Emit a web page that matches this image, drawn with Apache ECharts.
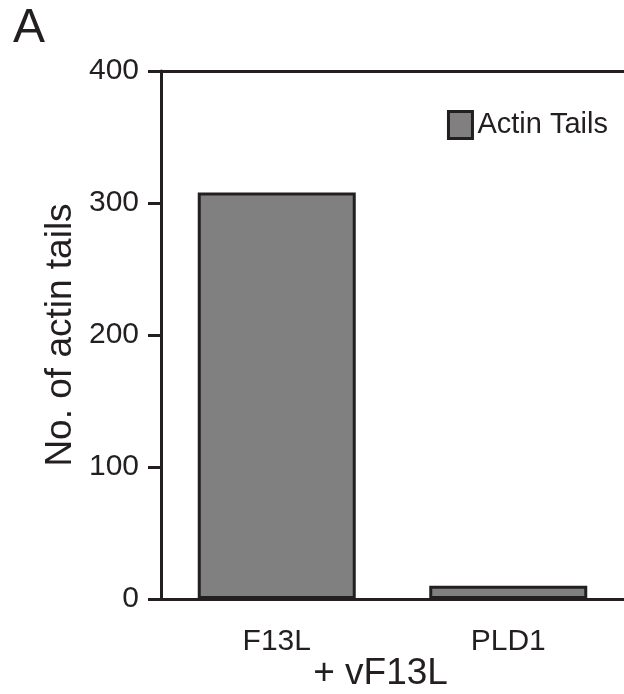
<!DOCTYPE html>
<html>
<head>
<meta charset="utf-8">
<script src="https://cdn.jsdelivr.net/npm/echarts@6/dist/echarts.min.js"></script>
<style>
  html, body { margin: 0; padding: 0; background: #fff; }
  #main { width: 624px; height: 694px; }
</style>
</head>
<body>
<div id="main"></div>
<script>
var categories = ['F13L', 'PLD1'];
var actinTails = [308, 10];
var yTicks = [0, 100, 200, 300, 400];

var ink = '#231f20';
var font = 'Liberation Sans, Arial, sans-serif';

var myChart = echarts.init(document.getElementById('main'));
var option = {
    animation: false,
    backgroundColor: '#fff',
    title: {
        text: 'A',
        left: 8,
        top: 0,
        textStyle: { fontFamily: font, fontSize: 48, fontWeight: 'normal', color: ink }
    },
    legend: {
        data: ['Actin Tails'],
        right: 11,
        top: 105,
        itemWidth: 24,
        itemHeight: 27,
        itemGap: 8,
        icon: 'rect',
        textStyle: { fontFamily: font, fontSize: 29, color: ink },
        itemStyle: { borderColor: ink, borderWidth: 3 }
    },
    grid: {
        left: 161,
        right: 0,
        top: 71,
        bottom: 95,
        containLabel: false,
        outerBoundsMode: 'none'
    },
    xAxis: [
        {
            type: 'category',
            data: categories,
            name: '+ vF13L',
            nameLocation: 'middle',
            nameGap: 56,
            nameMoveOverlap: false,
            nameTextStyle: { fontFamily: font, fontSize: 37, color: ink, padding: [0, 24, 0, 0] },
            axisLine: { lineStyle: { color: ink, width: 3 } },
            axisTick: { alignWithLabel: true, length: 18, lineStyle: { color: ink, width: 3 } },
            axisLabel: { fontFamily: font, fontSize: 30, color: ink, margin: 28 }
        },
        {
            type: 'category',
            data: categories,
            position: 'top',
            axisLine: { lineStyle: { color: ink, width: 3 } },
            axisTick: { show: false },
            axisLabel: { show: false }
        }
    ],
    yAxis: {
        type: 'value',
        min: yTicks[0],
        max: yTicks[yTicks.length - 1],
        interval: 100,
        name: 'No. of actin tails',
        nameLocation: 'middle',
        nameGap: 82,
        nameMoveOverlap: false,
        nameTextStyle: { fontFamily: font, fontSize: 37, color: ink },
        axisLine: { show: true, lineStyle: { color: ink, width: 3 } },
        axisTick: { show: true, length: 13, lineStyle: { color: ink, width: 3 } },
        axisLabel: { fontFamily: font, fontSize: 30, color: ink, margin: 22 },
        splitLine: { show: false }
    },
    series: [
        {
            name: 'Actin Tails',
            type: 'bar',
            xAxisIndex: 0,
            data: actinTails,
            barWidth: 158,
            itemStyle: { color: '#808080', borderColor: ink, borderWidth: 3 }
        }
    ]
};
myChart.setOption(option);
</script>
</body>
</html>
